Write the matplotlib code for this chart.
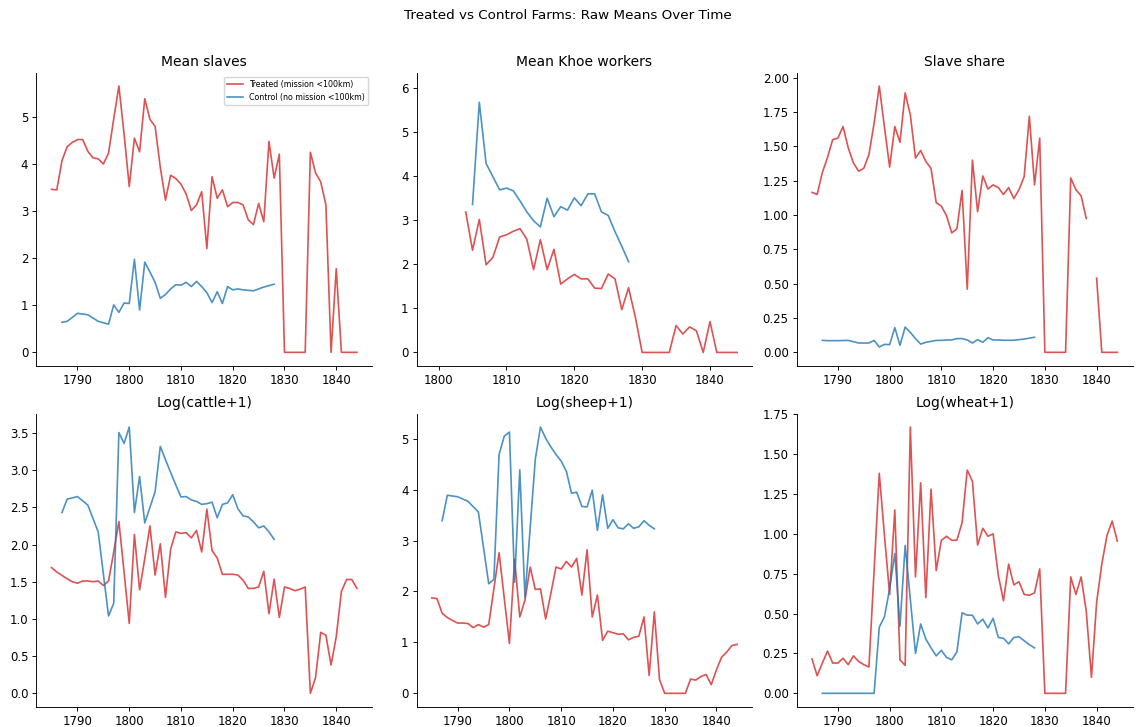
import numpy as np
import matplotlib
matplotlib.use("Agg")
import matplotlib.pyplot as plt

# years
treated_years = list(range(1785, 1845))
control_years = [1787, 1788, 1790, 1792, 1794, 1796] + list(range(1797, 1829))
khoe_treated_years = list(range(1804, 1845))
khoe_control_years = list(range(1805, 1829))

nan = np.nan

# mean slaves
treated_slaves = [3.47, 3.46, 4.08, 4.38, 4.47, 4.53, 4.53, 4.28, 4.14, 4.12,
                  4.01, 4.24, 4.97, 5.67, 4.65, 3.53, 4.56, 4.27, 5.40, 4.96,
                  4.81, 3.94, 3.24, 3.77, 3.70, 3.58, 3.37, 3.02, 3.14, 3.42,
                  2.21, 3.74, 3.28, 3.46, 3.10, 3.19, 3.19, 3.14, 2.82, 2.72,
                  3.17, 2.78, 4.49, 3.71, 4.22, 0, 0, 0, 0, 0,
                  4.26, 3.82, 3.63, 3.14, 0, 1.78, 0, 0, 0, 0]
control_slaves = [0.64, 0.66, 0.83, 0.80, 0.66, 0.60,
                  1.01, 0.85, 1.05, 1.04, 1.98, 0.90, 1.92, 1.71, 1.49, 1.15,
                  1.23, 1.35, 1.44, 1.43, 1.49, 1.40, 1.51, 1.40, 1.27, 1.06,
                  1.29, 1.04, 1.40, 1.33, 1.35, 1.33, 1.32, 1.31, 1.35, 1.39,
                  1.42, 1.45]

# mean khoe workers
treated_khoe = [3.19, 2.32, 3.02, 1.99, 2.16, 2.62, 2.67, 2.75, 2.81, 2.57,
                1.88, 2.56, 1.88, 2.34, 1.55, 1.67, 1.77, 1.67, 1.67, 1.46,
                1.45, 1.78, 1.67, 0.97, 1.47, 0.80, 0, 0, 0, 0,
                0, 0.61, 0.42, 0.58, 0.49, 0, 0.70, 0, 0, 0,
                0]
control_khoe = [3.36, 5.68, 4.29, 3.99, 3.69, 3.73, 3.67, 3.44, 3.19, 2.99,
                2.85, 3.50, 3.08, 3.31, 3.23, 3.51, 3.33, 3.60, 3.60, 3.19,
                3.11, 2.74, 2.41, 2.06]

# slave share
treated_share = [1.165, 1.15, 1.31, 1.42, 1.55, 1.56, 1.645, 1.49, 1.38, 1.32,
                 1.34, 1.44, 1.67, 1.94, 1.64, 1.35, 1.645, 1.53, 1.89, 1.73,
                 1.415, 1.47, 1.39, 1.34, 1.09, 1.065, 0.995, 0.87, 0.90, 1.18,
                 0.46, 1.40, 1.025, 1.285, 1.19, 1.22, 1.20, 1.15, 1.20, 1.12,
                 1.185, 1.28, 1.72, 1.22, 1.56, 0, 0, 0, 0, 0,
                 1.27, 1.185, 1.14, 0.975, nan, 0.54, 0, 0, 0, 0]
control_share = [0.087, 0.085, 0.085, 0.087, 0.068, 0.068,
                 0.087, 0.039, 0.058, 0.056, 0.18, 0.051, 0.184, 0.145, 0.10, 0.06,
                 0.073, 0.08, 0.087, 0.087, 0.09, 0.09, 0.10, 0.10, 0.09, 0.068,
                 0.092, 0.073, 0.106, 0.09, 0.09, 0.088, 0.088, 0.088, 0.092, 0.097,
                 0.103, 0.11]

# log(cattle+1)
treated_cattle = [1.69, 1.63, 1.585, 1.54, 1.50, 1.48, 1.51, 1.51, 1.50, 1.51,
                  1.45, 1.51, 1.90, 2.31, 1.63, 0.94, 2.135, 1.39, 1.81, 2.25,
                  1.59, 2.01, 1.29, 1.94, 2.17, 2.15, 2.16, 2.09, 2.19, 1.90,
                  2.475, 1.92, 1.82, 1.60, 1.60, 1.60, 1.59, 1.52, 1.41, 1.41,
                  1.43, 1.64, 1.07, 1.535, 1.02, 1.43, 1.41, 1.38, 1.40, 1.43,
                  0.0, 0.21, 0.82, 0.78, 0.38, 0.76, 1.37, 1.53, 1.53, 1.41]
control_cattle = [2.43, 2.61, 2.645, 2.53, 2.17, 1.04,
                  1.21, 3.505, 3.36, 3.58, 2.43, 2.915, 2.29, 2.50, 2.71, 3.32,
                  3.14, 2.97, 2.80, 2.64, 2.645, 2.60, 2.58, 2.54, 2.55, 2.57,
                  2.36, 2.54, 2.56, 2.67, 2.48, 2.385, 2.37, 2.305, 2.225, 2.25,
                  2.17, 2.07]

# log(sheep+1)
treated_sheep = [1.875, 1.86, 1.57, 1.49, 1.43, 1.38, 1.38, 1.37, 1.29, 1.35,
                 1.30, 1.35, 2.06, 2.76, 1.87, 0.98, 2.63, 1.50, 1.83, 2.48,
                 2.04, 2.05, 1.46, 1.96, 2.48, 2.44, 2.59, 2.48, 2.65, 1.93,
                 2.82, 1.50, 1.93, 1.04, 1.22, 1.19, 1.16, 1.17, 1.05, 1.10,
                 1.12, 1.50, 0.35, 1.60, 0.27, 0, 0, 0, 0, 0,
                 0.28, 0.26, 0.33, 0.37, 0.17, 0.46, 0.71, 0.81, 0.94, 0.96]
control_sheep = [3.39, 3.89, 3.86, 3.77, 3.56, 2.15,
                 2.24, 4.69, 5.05, 5.13, 2.18, 4.39, 1.88, 3.24, 4.60, 5.23,
                 5.01, 4.84, 4.69, 4.56, 4.36, 3.93, 3.95, 3.67, 3.66, 3.99,
                 3.20, 3.90, 3.24, 3.41, 3.25, 3.23, 3.33, 3.24, 3.27, 3.39,
                 3.30, 3.23]

# log(wheat+1)
treated_wheat = [0.215, 0.11, 0.19, 0.265, 0.19, 0.19, 0.22, 0.18, 0.235, 0.20,
                 0.18, 0.165, 0.77, 1.38, 0.99, 0.62, 1.15, 0.21, 0.175, 1.67,
                 0.73, 1.32, 0.60, 1.28, 0.77, 0.96, 0.985, 0.96, 0.96, 1.07,
                 1.40, 1.33, 0.93, 1.035, 0.985, 1.00, 0.74, 0.58, 0.81, 0.68,
                 0.70, 0.62, 0.615, 0.63, 0.78, 0, 0, 0, 0, 0,
                 0.73, 0.62, 0.73, 0.515, 0.10, 0.57, 0.81, 0.99, 1.08, 0.955]
control_wheat = [0, 0, 0, 0, 0, 0,
                 0, 0.415, 0.48, 0.655, 0.877, 0.42, 0.927, 0.59, 0.25, 0.435,
                 0.34, 0.285, 0.235, 0.27, 0.225, 0.21, 0.26, 0.505, 0.49, 0.49,
                 0.435, 0.465, 0.41, 0.47, 0.35, 0.345, 0.31, 0.35, 0.355, 0.33,
                 0.305, 0.285]

panels = [
    ("Mean slaves", treated_years, treated_slaves, control_years, control_slaves),
    ("Mean Khoe workers", khoe_treated_years, treated_khoe, khoe_control_years, control_khoe),
    ("Slave share", treated_years, treated_share, control_years, control_share),
    ("Log(cattle+1)", treated_years, treated_cattle, control_years, control_cattle),
    ("Log(sheep+1)", treated_years, treated_sheep, control_years, control_sheep),
    ("Log(wheat+1)", treated_years, treated_wheat, control_years, control_wheat),
]

fig, axes = plt.subplots(2, 3, figsize=(11.36, 7.27), dpi=100)
fig.subplots_adjust(left=0.032, right=0.997, top=0.9, bottom=0.028,
                    wspace=0.132, hspace=0.164)

for ax, (title, ty, tv, cy, cv) in zip(axes.flat, panels):
    ax.plot(ty, tv, color="tab:red", alpha=0.8, lw=1.2,
            label="Treated (mission <100km)")
    ax.plot(cy, cv, color="tab:blue", alpha=0.8, lw=1.2,
            label="Control (no mission <100km)")
    ax.set_title(title, fontsize=10, pad=5)
    ax.tick_params(labelsize=8.5, length=2.9, width=0.66, pad=2.9)
    for side in ("left", "bottom"):
        ax.spines[side].set_linewidth(0.66)
    ax.spines["top"].set_visible(False)
    ax.spines["right"].set_visible(False)

# khoe panel has a wider range than the visible lines
axes[0, 1].set_xlim(1796.75, 1846.25)
axes[0, 1].set_ylim(-0.30, 6.35)
axes[0, 1].set_xticks([1800, 1810, 1820, 1830, 1840])

axes[0, 2].yaxis.set_major_formatter(matplotlib.ticker.FormatStrFormatter("%.2f"))
axes[1, 2].yaxis.set_major_formatter(matplotlib.ticker.FormatStrFormatter("%.2f"))

axes[0, 0].legend(loc="upper right", fontsize=5.7)

fig.suptitle("Treated vs Control Farms: Raw Means Over Time", fontsize=9.7, y=0.979, va="center")

fig.savefig("out.png", dpi=100)
